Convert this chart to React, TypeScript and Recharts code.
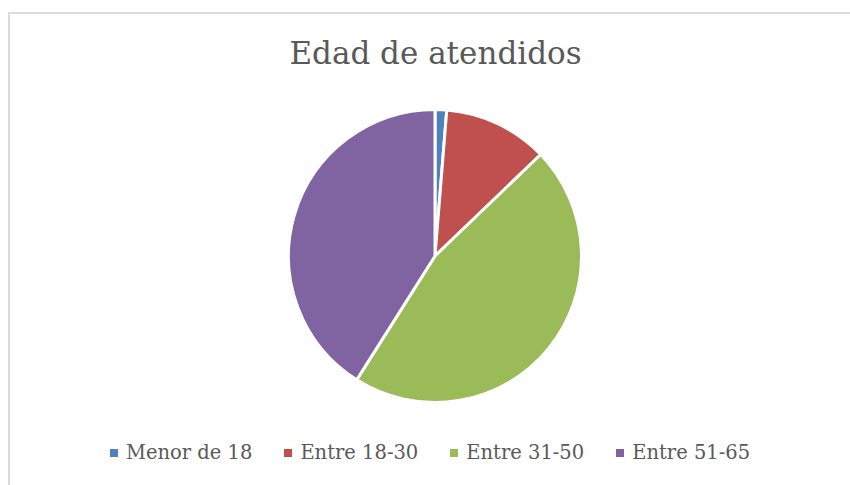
import { PieChart, Pie, Cell, Legend } from 'recharts'

const categories = ['Menor de 18', 'Entre 18-30', 'Entre 31-50', 'Entre 51-65']
const counts = [1, 9, 36, 32]
const colors = ['#4F81BD', '#C0504D', '#9BBB59', '#8064A2']

const data = categories.map((name, i) => ({ name, value: counts[i] }))

const FONT = '"DejaVu Serif", serif'

function LegendBox() {
  return (
    <div style={{ display: 'flex', alignItems: 'center', fontFamily: FONT, fontSize: 19.5, color: '#595959' }}>
      {categories.map((c, i) => (
        <div key={c} style={{ display: 'flex', alignItems: 'center', marginRight: 32 }}>
          <div style={{ width: 8, height: 8, background: colors[i], marginRight: 8 }} />
          <span style={{ whiteSpace: 'nowrap' }}>{c}</span>
        </div>
      ))}
    </div>
  )
}

export default function App() {
  return (
    <div style={{ position: 'absolute', left: 0, top: 0, width: 850, height: 485, background: '#fff', overflow: 'hidden' }}>
      {/* marco del grafico */}
      <div
        style={{
          position: 'absolute',
          left: 8,
          top: 12,
          width: 850,
          height: 480,
          borderTop: '2px solid #dcdcdc',
          borderLeft: '2px solid #dcdcdc',
        }}
      />
      <svg width={850} height={485} style={{ position: 'absolute', left: 0, top: 0, pointerEvents: 'none' }}>
        <text x={435.5} y={64} textAnchor="middle" fontFamily={FONT} fontSize={31} fill="#595959">
          Edad de atendidos
        </text>
      </svg>
      <div style={{ position: 'absolute', left: 0, top: 0 }}>
        <PieChart width={850} height={485} margin={{ top: 0, right: 0, bottom: 0, left: 0 }}>
          <Pie
            data={data}
            dataKey="value"
            nameKey="name"
            cx={435}
            cy={256}
            outerRadius={146.5}
            startAngle={90}
            endAngle={-270}
            stroke="#fff"
            strokeWidth={3}
            isAnimationActive={false}
          >
            {data.map((d, i) => (
              <Cell key={d.name} fill={colors[i]} />
            ))}
          </Pie>
          <Legend
            content={() => <LegendBox />}
            wrapperStyle={{ position: 'absolute', left: 110, top: 441, width: 'auto' }}
          />
        </PieChart>
      </div>
    </div>
  )
}
